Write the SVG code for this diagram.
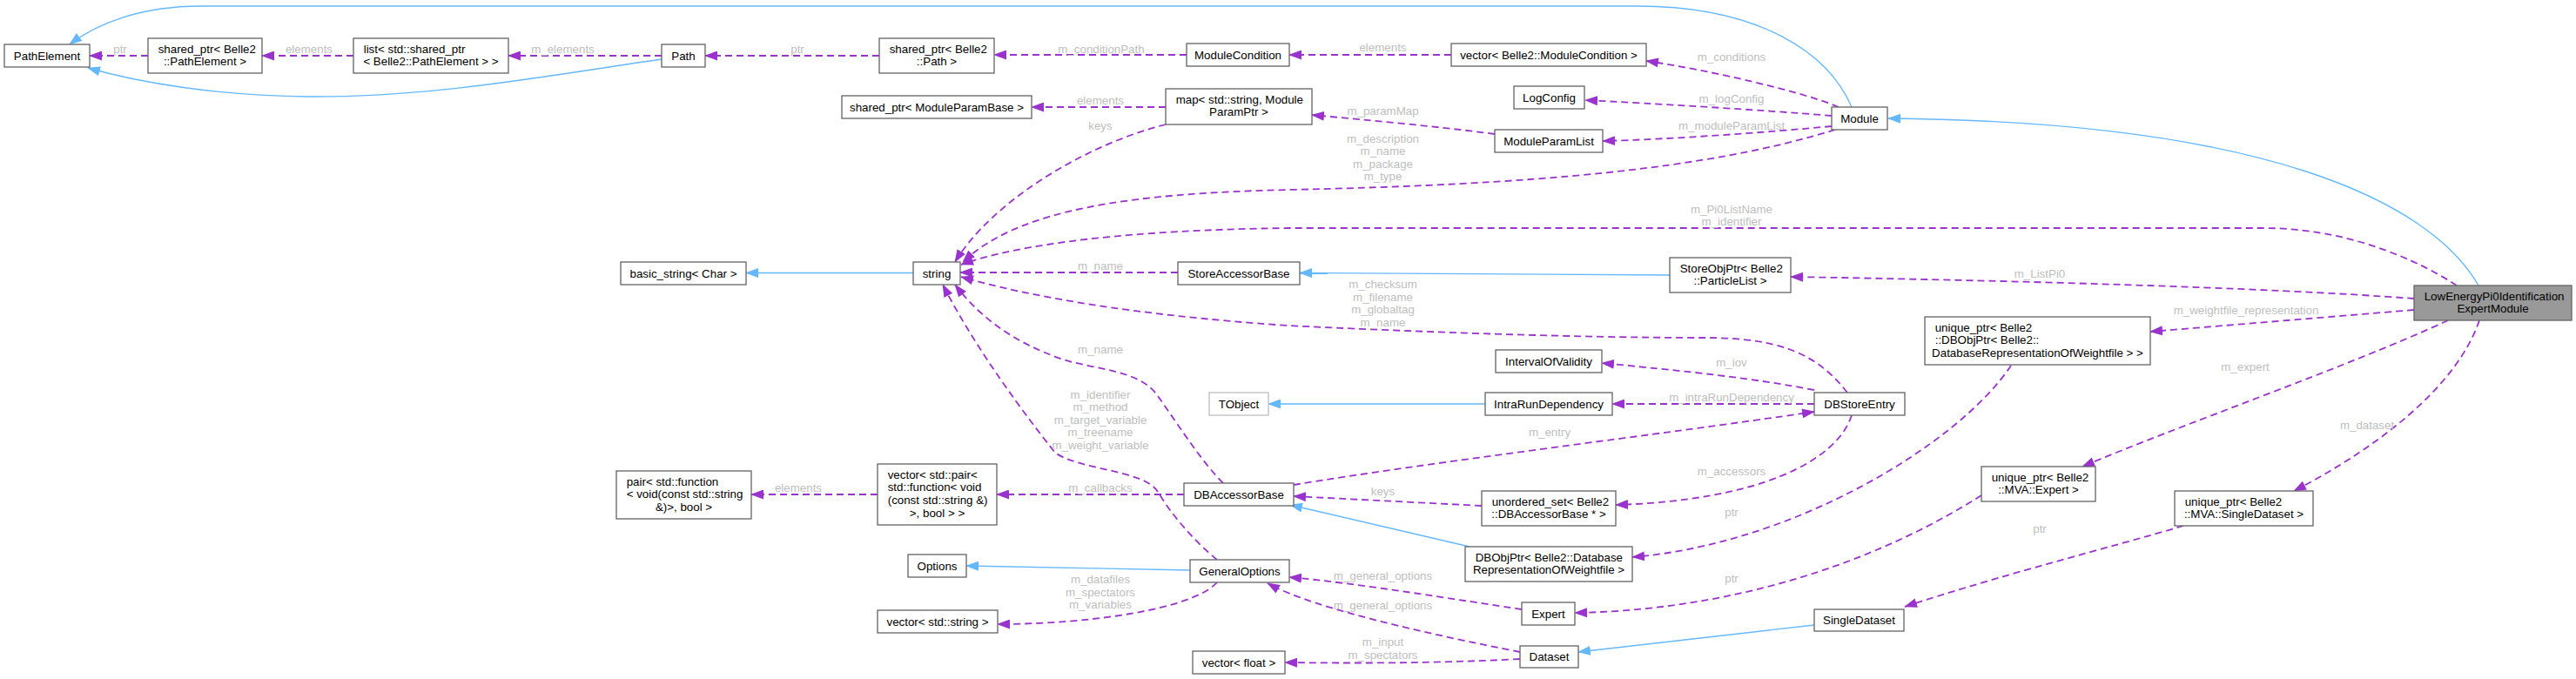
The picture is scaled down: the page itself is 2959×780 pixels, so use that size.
<svg xmlns="http://www.w3.org/2000/svg" width="2959" height="780" viewBox="0 0 2959 780">
<style>
.n rect{fill:#fff;stroke:#666;stroke-width:1.33}
.n text,.l{font-family:"Liberation Sans",Arial,Helvetica,sans-serif;font-size:13.33px}
.n text{fill:#000}
.m{text-anchor:middle}
.s{text-anchor:start}
.l{fill:#bebebe;text-anchor:middle}
.u{fill:none;stroke:#9a32cd;stroke-width:1.8;stroke-dasharray:8,5;marker-end:url(#ap)}
.i{fill:none;stroke:#63b8ff;stroke-width:1.33;marker-end:url(#ab)}
</style>
<defs>
<marker id="ap" markerUnits="userSpaceOnUse" markerWidth="15" markerHeight="11" refX="14" refY="5.5" orient="auto"><path d="M0,0 L15,5.5 L0,11 z" fill="#9a32cd"/></marker>
<marker id="ab" markerUnits="userSpaceOnUse" markerWidth="15" markerHeight="11" refX="14" refY="5.5" orient="auto"><path d="M0,0 L15,5.5 L0,11 z" fill="#63b8ff"/></marker>
</defs>
<rect width="2959" height="780" fill="#fff"/>
<g id="edges">
<path class="i" d="M2127,123 C2100,60 2020,7 1880,7 L231,7 C160,7 110,28 80,51"/>
<path class="i" d="M760,68 C640,85 500,112 354,111 C250,110 160,95 101,78"/>
<path class="i" d="M2847,328 C2790,230 2600,140 2169,136"/>
<path class="i" d="M1049,313.5 L857,313.5"/>
<path class="i" d="M1918,316 L1493,313.5"/>
<path class="i" d="M1706,464 L1457,464"/>
<path class="i" d="M1688,628 L1482,580"/>
<path class="i" d="M1367,655 L1110,650"/>
<path class="i" d="M2084,718 L1813,749"/>
<path class="u" d="M170,64 L103,64"/>
<path class="u" d="M406,64 L301,64"/>
<path class="u" d="M760,64 L584,64"/>
<path class="u" d="M1010,64 L810,64"/>
<path class="u" d="M1363,63 L1142,63"/>
<path class="u" d="M1667,63 L1481,63"/>
<path class="u" d="M2112,123 C2070,105 1960,80 1891,70"/>
<path class="u" d="M2104,133 C2020,126 1900,119 1821,115"/>
<path class="u" d="M2104,145 C2030,152 1920,160 1841,162"/>
<path class="u" d="M1717,154 C1650,145 1570,138 1507,132"/>
<path class="u" d="M1339,123 L1185,123"/>
<path class="u" d="M1339,143 C1250,165 1140,230 1097,301"/>
<path class="u" d="M2108,149 C1960,195 1760,212 1480,218 C1300,222 1170,240 1106,301"/>
<path class="u" d="M2822,328 C2795,310 2710,262 2600,262 L1480,262 C1300,264 1170,280 1104,304"/>
<path class="u" d="M1353,313 L1103,313"/>
<path class="u" d="M2122,451 C2090,410 2050,388 1960,388 C1800,388 1600,380 1480,374 C1300,362 1180,340 1104,318"/>
<path class="u" d="M1405,555 C1380,530 1355,490 1330,455 C1310,425 1260,425 1221,413 C1170,395 1130,370 1097,327"/>
<path class="u" d="M1398,643 C1370,620 1345,590 1330,565 C1315,540 1240,540 1212,520 C1180,480 1120,400 1083,327"/>
<path class="u" d="M2773,343 C2600,330 2300,322 2057,318"/>
<path class="u" d="M2084,448 C2000,432 1920,425 1840,417"/>
<path class="u" d="M2084,464 L1852,464"/>
<path class="u" d="M1486,557 C1650,530 1900,500 2084,473"/>
<path class="u" d="M2127,477 C2110,530 2020,575 1856,580"/>
<path class="u" d="M1702,581 L1486,570"/>
<path class="u" d="M1360,568 L1145,568"/>
<path class="u" d="M1008,568 L863,568"/>
<path class="u" d="M2773,356 L2470,381"/>
<path class="u" d="M2310,420 C2250,510 2060,625 1875,640"/>
<path class="u" d="M2812,368 C2700,420 2500,490 2392,536"/>
<path class="u" d="M2276,569 C2180,630 2020,700 1809,704"/>
<path class="u" d="M2848,368 C2820,450 2720,520 2635,564"/>
<path class="u" d="M2508,604 C2420,630 2300,660 2188,697"/>
<path class="u" d="M1748,700 C1680,690 1560,670 1481,663"/>
<path class="u" d="M1746,749 C1650,730 1510,700 1456,670"/>
<path class="u" d="M1398,669 C1370,700 1250,717 1146,717"/>
<path class="u" d="M1746,757 C1650,762 1560,762 1476,761"/>
<text class="l" x="138" y="60.5">ptr</text>
<text class="l" x="355" y="60.5">elements</text>
<text class="l" x="646.5" y="60.5">m_elements</text>
<text class="l" x="916" y="60.5">ptr</text>
<text class="l" x="1265" y="60.5">m_conditionPath</text>
<text class="l" x="1588.5" y="58.5">elements</text>
<text class="l" x="1989" y="69.5">m_conditions</text>
<text class="l" x="1989" y="118">m_logConfig</text>
<text class="l" x="1989" y="148.5">m_moduleParamList</text>
<text class="l" x="1588.5" y="132">m_paramMap</text>
<text class="l" x="1264" y="119.5">elements</text>
<text class="l" x="1264" y="148.5">keys</text>
<text class="l" x="1588.5" y="163.5">m_description</text>
<text class="l" x="1588.5" y="178">m_name</text>
<text class="l" x="1588.5" y="192.5">m_package</text>
<text class="l" x="1588.5" y="207">m_type</text>
<text class="l" x="1989" y="244.5">m_Pi0ListName</text>
<text class="l" x="1989" y="259">m_identifier</text>
<text class="l" x="1264" y="309.5">m_name</text>
<text class="l" x="1588.5" y="331">m_checksum</text>
<text class="l" x="1588.5" y="345.7">m_filename</text>
<text class="l" x="1588.5" y="360.3">m_globaltag</text>
<text class="l" x="1588.5" y="375">m_name</text>
<text class="l" x="1264" y="406">m_name</text>
<text class="l" x="1264" y="457.5">m_identifier</text>
<text class="l" x="1264" y="472">m_method</text>
<text class="l" x="1264" y="486.7">m_target_variable</text>
<text class="l" x="1264" y="501.3">m_treename</text>
<text class="l" x="1264" y="516">m_weight_variable</text>
<text class="l" x="2343" y="318.5">m_ListPi0</text>
<text class="l" x="1989" y="420.5">m_iov</text>
<text class="l" x="1989" y="460.5">m_intraRunDependency</text>
<text class="l" x="1780" y="500.5">m_entry</text>
<text class="l" x="1989" y="545.5">m_accessors</text>
<text class="l" x="1588.5" y="568.5">keys</text>
<text class="l" x="1264" y="564.5">m_callbacks</text>
<text class="l" x="917" y="564.5">elements</text>
<text class="l" x="2580" y="360.5">m_weightfile_representation</text>
<text class="l" x="1989" y="592.5">ptr</text>
<text class="l" x="2579" y="425.5">m_expert</text>
<text class="l" x="2343" y="611.5">ptr</text>
<text class="l" x="2719" y="492.5">m_dataset</text>
<text class="l" x="1989" y="668.5">ptr</text>
<text class="l" x="1588.5" y="665.5">m_general_options</text>
<text class="l" x="1588.5" y="699.5">m_general_options</text>
<text class="l" x="1264" y="670">m_datafiles</text>
<text class="l" x="1264" y="684.5">m_spectators</text>
<text class="l" x="1264" y="699">m_variables</text>
<text class="l" x="1588.5" y="741.5">m_input</text>
<text class="l" x="1588.5" y="756.5">m_spectators</text>
</g>
<g id="node_PathElement" class="n"><rect x="5" y="51" width="98" height="26"/><text class="m" x="54" y="68.7">PathElement</text></g>
<g id="node_shared_ptr_PathElement" class="n"><rect x="170" y="44" width="131" height="40"/><text class="s" x="181.7" y="60.7">shared_ptr&lt; Belle2</text><text class="m" x="235.5" y="75.4">::PathElement &gt;</text></g>
<g id="node_list_shared_ptr" class="n"><rect x="406" y="44" width="178" height="40"/><text class="s" x="417.7" y="60.7">list&lt; std::shared_ptr</text><text class="m" x="495" y="75.4">&lt; Belle2::PathElement &gt; &gt;</text></g>
<g id="node_Path" class="n"><rect x="760" y="51" width="50" height="26"/><text class="m" x="785" y="68.7">Path</text></g>
<g id="node_shared_ptr_Path" class="n"><rect x="1010" y="44" width="132" height="40"/><text class="s" x="1021.7" y="60.7">shared_ptr&lt; Belle2</text><text class="m" x="1076" y="75.4">::Path &gt;</text></g>
<g id="node_ModuleCondition" class="n"><rect x="1363" y="50" width="118" height="26"/><text class="m" x="1422" y="67.7">ModuleCondition</text></g>
<g id="node_vector_ModuleCondition" class="n"><rect x="1667" y="50" width="224" height="26"/><text class="m" x="1779" y="67.7">vector&lt; Belle2::ModuleCondition &gt;</text></g>
<g id="node_shared_ptr_ModuleParamBase" class="n"><rect x="967" y="110" width="218" height="26"/><text class="m" x="1076" y="127.7">shared_ptr&lt; ModuleParamBase &gt;</text></g>
<g id="node_map" class="n"><rect x="1339" y="102" width="168" height="41"/><text class="s" x="1350.7" y="118.7">map&lt; std::string, Module</text><text class="m" x="1423" y="133.4">ParamPtr &gt;</text></g>
<g id="node_LogConfig" class="n"><rect x="1739" y="99" width="81" height="26"/><text class="m" x="1779.5" y="116.7">LogConfig</text></g>
<g id="node_Module" class="n"><rect x="2104" y="123" width="64" height="26"/><text class="m" x="2136" y="140.7">Module</text></g>
<g id="node_ModuleParamList" class="n"><rect x="1717" y="149" width="124" height="26"/><text class="m" x="1779" y="166.7">ModuleParamList</text></g>
<g id="node_basic_string" class="n"><rect x="713" y="301" width="144" height="26"/><text class="m" x="785" y="318.7">basic_string&lt; Char &gt;</text></g>
<g id="node_string" class="n"><rect x="1049" y="301" width="54" height="26"/><text class="m" x="1076" y="318.7">string</text></g>
<g id="node_StoreAccessorBase" class="n"><rect x="1353" y="301" width="140" height="26"/><text class="m" x="1423" y="318.7">StoreAccessorBase</text></g>
<g id="node_StoreObjPtr" class="n"><rect x="1918" y="296" width="139" height="40"/><text class="s" x="1929.7" y="312.7">StoreObjPtr&lt; Belle2</text><text class="m" x="1987.5" y="327.4">::ParticleList &gt;</text></g>
<g id="node_IntervalOfValidity" class="n"><rect x="1718" y="402" width="122" height="26"/><text class="m" x="1779" y="419.7">IntervalOfValidity</text></g>
<g id="node_TObject" class="n"><rect x="1389" y="451" width="68" height="26" style="stroke:#bfbfbf"/><text class="m" x="1423" y="468.7">TObject</text></g>
<g id="node_IntraRunDependency" class="n"><rect x="1706" y="451" width="146" height="26"/><text class="m" x="1779" y="468.7">IntraRunDependency</text></g>
<g id="node_DBStoreEntry" class="n"><rect x="2084" y="451" width="104" height="26"/><text class="m" x="2136" y="468.7">DBStoreEntry</text></g>
<g id="node_LowEnergyPi0IdentificationExpertModule" class="n"><rect x="2773" y="328" width="181" height="40" style="fill:#999999"/><text class="s" x="2784.7" y="344.7">LowEnergyPi0Identification</text><text class="m" x="2863.5" y="359.4">ExpertModule</text></g>
<g id="node_unique_ptr_DBObjPtr" class="n"><rect x="2211" y="364" width="259" height="55"/><text class="s" x="2222.7" y="380.7">unique_ptr&lt; Belle2</text><text class="s" x="2222.7" y="395.4">::DBObjPtr&lt; Belle2::</text><text class="m" x="2340.5" y="410">DatabaseRepresentationOfWeightfile &gt; &gt;</text></g>
<g id="node_pair" class="n"><rect x="708" y="541" width="155" height="55"/><text class="s" x="719.7" y="557.7">pair&lt; std::function</text><text class="s" x="719.7" y="572.4">&lt; void(const std::string</text><text class="m" x="785.5" y="587">&amp;)&gt;, bool &gt;</text></g>
<g id="node_vector_pair" class="n"><rect x="1008" y="533" width="137" height="70"/><text class="s" x="1019.7" y="549.7">vector&lt; std::pair&lt;</text><text class="s" x="1019.7" y="564.4">std::function&lt; void</text><text class="s" x="1019.7" y="579">(const std::string &amp;)</text><text class="m" x="1076.5" y="593.7">&gt;, bool &gt; &gt;</text></g>
<g id="node_DBAccessorBase" class="n"><rect x="1360" y="555" width="126" height="26"/><text class="m" x="1423" y="572.7">DBAccessorBase</text></g>
<g id="node_unordered_set" class="n"><rect x="1702" y="564" width="154" height="40"/><text class="s" x="1713.7" y="580.7">unordered_set&lt; Belle2</text><text class="m" x="1779" y="595.4">::DBAccessorBase * &gt;</text></g>
<g id="node_unique_ptr_Expert" class="n"><rect x="2276" y="536" width="131" height="40"/><text class="s" x="2287.7" y="552.7">unique_ptr&lt; Belle2</text><text class="m" x="2341.5" y="567.4">::MVA::Expert &gt;</text></g>
<g id="node_unique_ptr_SingleDataset" class="n"><rect x="2498" y="564" width="159" height="40"/><text class="s" x="2509.7" y="580.7">unique_ptr&lt; Belle2</text><text class="m" x="2577.5" y="595.4">::MVA::SingleDataset &gt;</text></g>
<g id="node_DBObjPtr" class="n"><rect x="1683" y="628" width="192" height="40"/><text class="s" x="1694.7" y="644.7">DBObjPtr&lt; Belle2::Database</text><text class="m" x="1779" y="659.4">RepresentationOfWeightfile &gt;</text></g>
<g id="node_Options" class="n"><rect x="1043" y="637" width="67" height="26"/><text class="m" x="1076.5" y="654.7">Options</text></g>
<g id="node_GeneralOptions" class="n"><rect x="1367" y="643" width="114" height="26"/><text class="m" x="1424" y="660.7">GeneralOptions</text></g>
<g id="node_vector_string" class="n"><rect x="1008" y="701" width="138" height="26"/><text class="m" x="1077" y="718.7">vector&lt; std::string &gt;</text></g>
<g id="node_Expert" class="n"><rect x="1748" y="692" width="61" height="26"/><text class="m" x="1778.5" y="709.7">Expert</text></g>
<g id="node_SingleDataset" class="n"><rect x="2084" y="700" width="103" height="25"/><text class="m" x="2135.5" y="717.2">SingleDataset</text></g>
<g id="node_Dataset" class="n"><rect x="1746" y="742" width="67" height="25"/><text class="m" x="1779.5" y="759.2">Dataset</text></g>
<g id="node_vector_float" class="n"><rect x="1370" y="748" width="106" height="26"/><text class="m" x="1423" y="765.7">vector&lt; float &gt;</text></g>
</svg>
